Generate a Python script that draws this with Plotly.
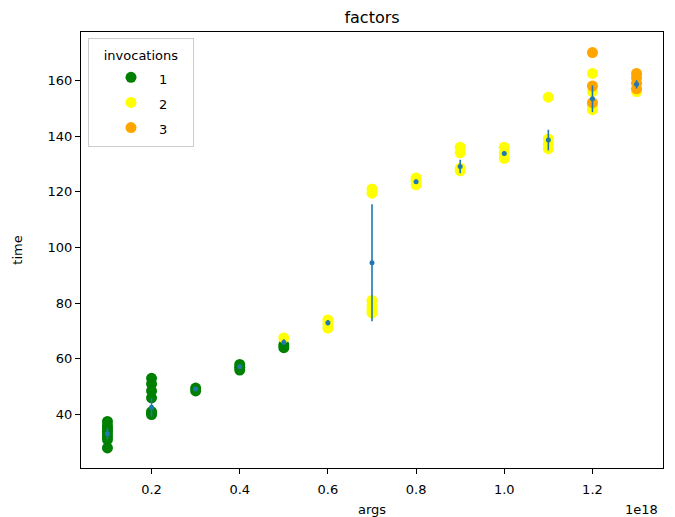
import plotly.graph_objects as go

# ---- data (args in units of 1e18) ----
inv1_args = [0.1]*8 + [0.2]*7 + [0.3]*2 + [0.4]*3 + [0.5]*2
inv1_time = [28, 31, 32, 33, 34, 35, 36, 37.5,
             40, 40.5, 41, 46, 48.5, 51, 53,
             48.5, 49.5,
             56, 57, 58,
             64, 65]

inv2_args = [0.5] + [0.6]*3 + [0.7]*6 + [0.8]*3 + [0.9]*4 + [1.0]*3 + [1.1]*4 + [1.2]*4 + [1.3]
inv2_time = [67.5,
             71, 72.5, 74,
             121, 119.5, 81, 79, 77.5, 76.5,
             122.5, 124, 125,
             127.5, 128.5, 134, 136,
             132, 134, 136,
             135.5, 137, 139, 154,
             149.5, 151, 156, 162.5,
             156]

inv3_args = [1.2]*3 + [1.3]*4
inv3_time = [152, 158, 170,
             157, 159, 161, 162.5]

mean_args = [0.1, 0.2, 0.3, 0.4, 0.5, 0.6, 0.7, 0.8, 0.9, 1.0, 1.1, 1.2, 1.3]
mean_time = [33.1, 42.6, 49.2, 57.2, 66.0, 73.0, 94.5, 123.6, 129.1, 133.8, 138.6, 153.4, 158.6]
err_time = [2.0, 3.4, 0.5, 0.7, 1.0, 1.0, 21.0, 0.8, 2.4, 0.8, 3.7, 4.8, 1.5]

legend_labels = ["1", "2", "3"]
x_ticks = [0.2, 0.4, 0.6, 0.8, 1.0, 1.2]
x_tick_labels = ["0.2", "0.4", "0.6", "0.8", "1.0", "1.2"]
y_ticks = [40, 60, 80, 100, 120, 140, 160]

FONT = "DejaVu Sans"
MS = 11
PAD = "\u00a0" * 5


def leg(label):
    return "<span style='font-size:13px'>" + label + PAD + "</span>"


# the page body has an 8px margin, so the figure is 8px smaller and offset
W, H = 667, 509
ML, MR, MT, MB = 73, 12, 24, 49
PW = W - ML - MR
PH = H - MT - MB

fig = go.Figure()
fig.add_trace(go.Scatter(x=inv1_args, y=inv1_time, mode="markers", name=leg(legend_labels[0]),
                         legendgroup="g1", marker=dict(color="#008000", size=MS)))
fig.add_trace(go.Scatter(x=inv2_args, y=inv2_time, mode="markers", name=leg(legend_labels[1]),
                         legendgroup="g2", marker=dict(color="#ffff00", size=MS)))
fig.add_trace(go.Scatter(x=inv3_args, y=inv3_time, mode="markers", name=leg(legend_labels[2]),
                         legendgroup="g3", marker=dict(color="#ffa500", size=MS)))
fig.add_trace(go.Scatter(x=mean_args, y=mean_time, mode="markers", showlegend=False,
                         marker=dict(color="#1f77b4", size=5),
                         error_y=dict(type="data", array=err_time, visible=True,
                                      color="#1f77b4", thickness=1.6, width=0)))

axis_common = dict(showline=True, linecolor="black", linewidth=1, mirror=True,
                   ticks="outside", ticklen=5, tickcolor="black", showgrid=False,
                   zeroline=False, tickfont=dict(family=FONT, size=13, color="black"))

fig.update_layout(
    width=W, height=H,
    margin=dict(l=ML, r=MR, t=MT, b=MB, autoexpand=False),
    plot_bgcolor="white", paper_bgcolor="white",
    font=dict(family=FONT, size=13, color="black"),
    title=dict(text="factors", x=(ML + PW / 2) / W, xanchor="center",
               y=1 - 9 / H, yanchor="middle", font=dict(family=FONT, size=16, color="black")),
    xaxis=dict(range=[0.04, 1.36], tickvals=x_ticks, ticktext=x_tick_labels,
               ticklabelstandoff=4, automargin=False,
               title=dict(text="args", standoff=12, font=dict(family=FONT, size=13)),
               **axis_common),
    yaxis=dict(range=[20.8, 177.4], tickvals=y_ticks, automargin=False,
               title=dict(text="time", standoff=22, font=dict(family=FONT, size=13)),
               **axis_common),
    legend=dict(x=7 / PW, y=1 - 6 / PH, xanchor="left", yanchor="top",
                bgcolor="rgba(255,255,255,0.8)", bordercolor="#cccccc", borderwidth=1,
                title=dict(text="<span style='font-size:13px'>invocations</span>",
                           side="top center", font=dict(family=FONT, size=16)),
                font=dict(family=FONT, size=17), itemwidth=46, indentation=14,
                tracegroupgap=0),
    showlegend=True,
)
fig.add_annotation(text="1e18", xref="paper", yref="paper", x=1.0, y=0, xanchor="right",
                   yanchor="top", yshift=-32, xshift=-3, showarrow=False,
                   font=dict(family=FONT, size=13, color="black"))

fig.write_html("out.html")
